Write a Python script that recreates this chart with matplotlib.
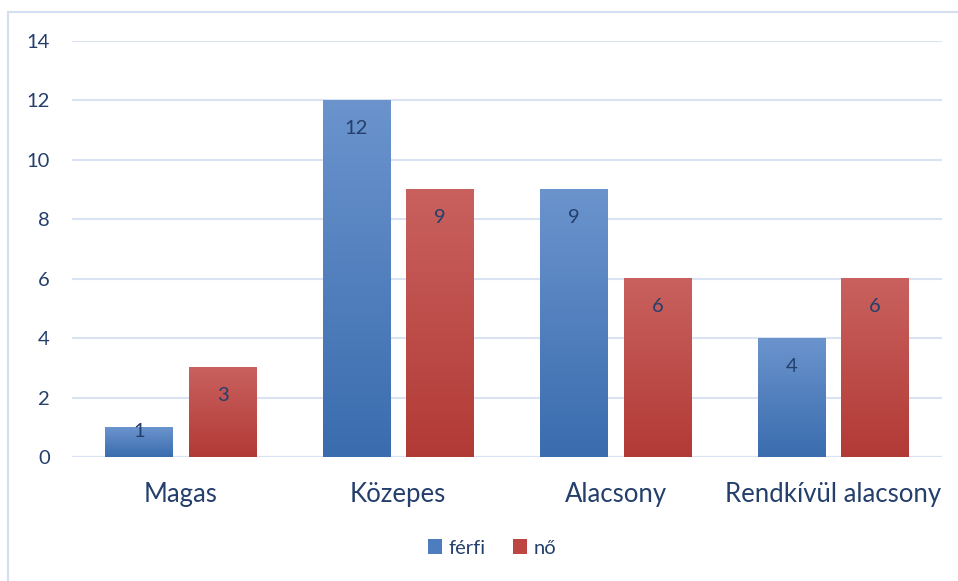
import numpy as np
import matplotlib
matplotlib.use("Agg")
import matplotlib.pyplot as plt
from matplotlib.colors import LinearSegmentedColormap
from matplotlib.patches import Rectangle, Patch

plt.rcParams['font.family'] = ['Lato', 'DejaVu Sans']

# data
categories = ['Magas', 'Közepes', 'Alacsony', 'Rendkívül alacsony']
ferfi = [1, 12, 9, 4]
no = [3, 9, 6, 6]
series_names = ['férfi', 'nő']

text_col = '#243f6b'
grid_col = '#d9e3f3'
blue_top, blue_bot = '#6b94cd', '#3a6cae'
red_top, red_bot = '#c9615e', '#b23a36'

fig = plt.figure(figsize=(9.58, 5.81), dpi=100)
ax = fig.add_axes([72/958, 124/581, 870/958, 416/581])

# chart frame (right and bottom edges fall outside the image)
fig.patches.append(Rectangle((8/958, -0.05), 1.0, 1 - 12/581 + 0.05, transform=fig.transFigure,
                             fill=False, edgecolor='#d3dff0', linewidth=1.5))

x = np.arange(len(categories))
w = 0.31
gap = 0.074
bars_f = ax.bar(x - (w + gap)/2, ferfi, w, color='none', edgecolor='none', zorder=3)
bars_n = ax.bar(x + (w + gap)/2, no, w, color='none', edgecolor='none', zorder=3)

grad = np.linspace(0, 1, 256).reshape(-1, 1)
for bars, top, bot in [(bars_f, blue_top, blue_bot), (bars_n, red_top, red_bot)]:
    cmap = LinearSegmentedColormap.from_list('g', [bot, top])
    for b in bars:
        x0, y0 = b.get_x(), b.get_y()
        ax.imshow(grad, cmap=cmap, aspect='auto', origin='lower',
                  extent=(x0, x0 + b.get_width(), y0, y0 + b.get_height()), zorder=3)
        h = b.get_height()
        off = -4 if h < 2 else -28
        ax.annotate(f'{h:g}', (x0 + b.get_width()/2, h), xytext=(0, off * 0.72),
                    textcoords='offset points', ha='center', va='center',
                    fontsize=14.5, color=text_col, zorder=4)

ax.set_xlim(-0.5, len(categories) - 0.5)
ax.set_ylim(0, 14)
ax.set_yticks(range(0, 15, 2))
ax.grid(axis='y', color=grid_col, linewidth=1.5, zorder=0)
for s in ax.spines.values():
    s.set_visible(False)
ax.axhline(0, color=grid_col, linewidth=1.5, zorder=2)
ax.tick_params(axis='y', length=0, pad=16, labelsize=14.5, labelcolor=text_col)
ax.set_xticks(x)
ax.set_xticklabels(categories)
ax.tick_params(axis='x', length=0, pad=18, labelsize=18.5, labelcolor=text_col)

handles = [Patch(facecolor='#4d7dbf', label=series_names[0]),
           Patch(facecolor='#bd4643', label=series_names[1])]
fig.legend(handles=handles, loc='center', bbox_to_anchor=(492/958, 1 - 548/581), ncol=2,
           frameon=False, fontsize=14.5, labelcolor=text_col, handlelength=0.7,
           handleheight=0.7, handletextpad=0.3, columnspacing=1.4)

fig.savefig('out.png', dpi=100)
